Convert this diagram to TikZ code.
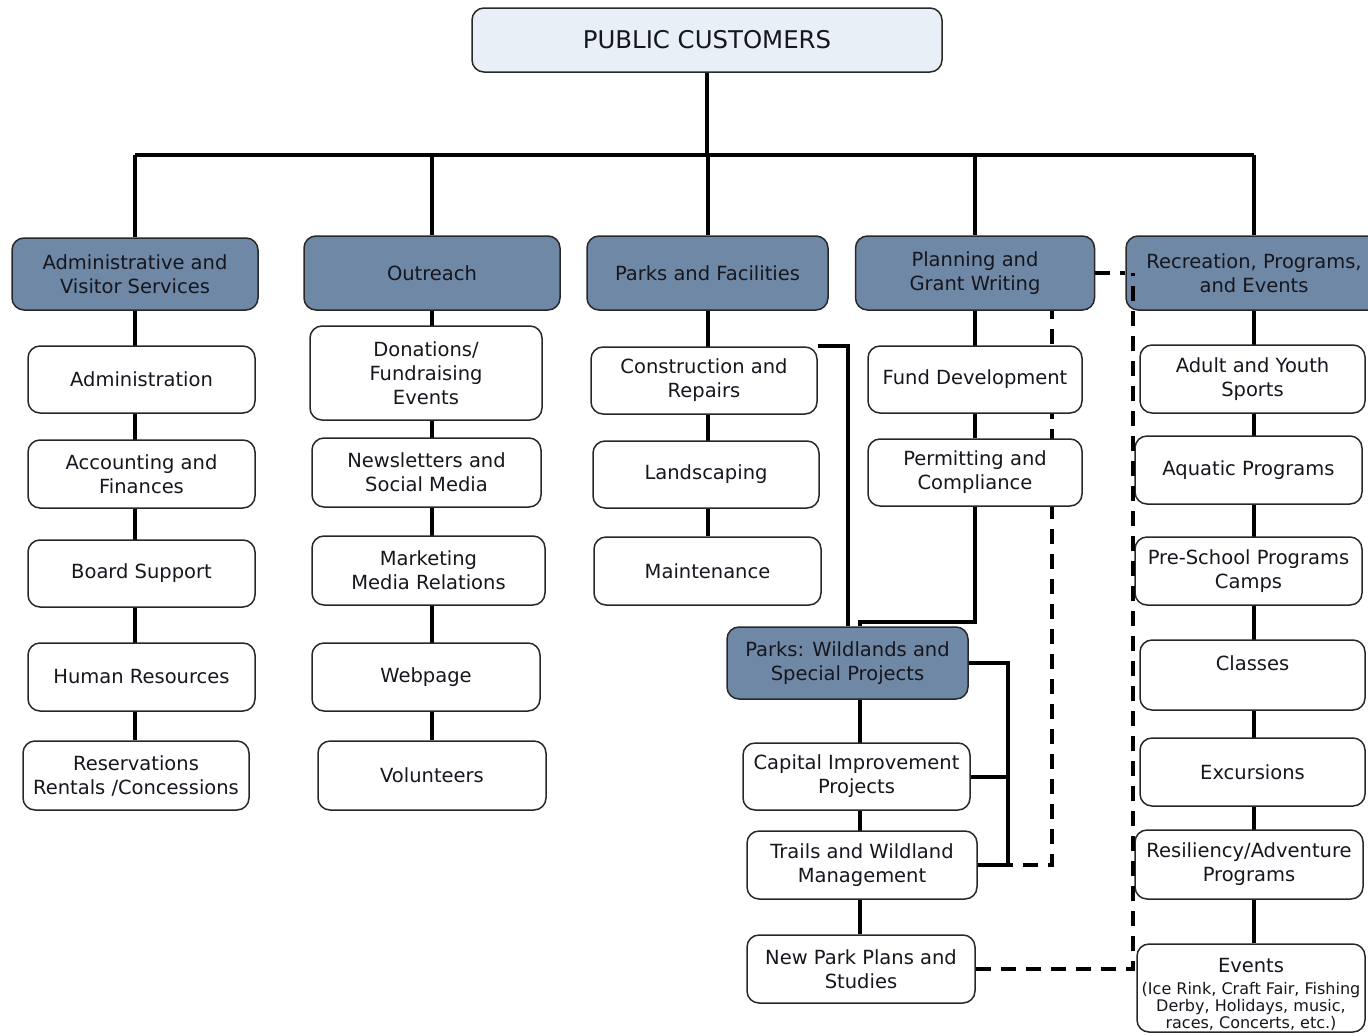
\documentclass[tikz,border=0pt]{standalone}
\usepackage{fontspec}
\setmainfont{DejaVu Sans}
\usetikzlibrary{backgrounds,calc}
\definecolor{slate}{RGB}{110,136,165}
\definecolor{topfill}{RGB}{233,239,247}
\definecolor{edge}{RGB}{40,40,40}
\definecolor{txt}{RGB}{22,22,30}
\begin{document}
\begin{tikzpicture}[x=1pt,y=-1pt,
  box/.style={draw=edge, line width=1.5pt, rounded corners=12pt, fill=white,
    align=center, text=txt, inner sep=0pt, font=\fontsize{19.5}{24}\selectfont},
  hbox/.style={box, fill=slate},
  conn/.style={line width=4pt},
  dconn/.style={line width=4pt, dash pattern=on 15pt off 10pt}]
\useasboundingbox (0,0) rectangle (1368,1034);

% top
\node[box, fill=topfill, minimum width=470pt, minimum height=64pt,
  font=\fontsize{24.4}{28}\selectfont] (top) at (707,40) {PUBLIC CUSTOMERS};

% level 2
\node[hbox, minimum width=246pt, minimum height=72pt] (adm) at (135,274) {Administrative and\\Visitor Services};
\node[hbox, minimum width=256pt, minimum height=74pt] (out) at (432,273) {Outreach};
\node[hbox, minimum width=241pt, minimum height=74pt] (pf) at (707.5,273) {Parks and Facilities};
\node[hbox, minimum width=239pt, minimum height=74pt] (pl) at (975,273) {Planning and\\Grant Writing};
\node[hbox, minimum width=256pt, minimum height=74pt] (rec) at (1254,273) {Recreation, Programs,\\and Events};

% column 1
\node[box, minimum width=227pt, minimum height=67pt] (a1) at (141.5,379.5) {Administration};
\node[box, minimum width=227pt, minimum height=68pt] (a2) at (141.5,474) {Accounting and\\Finances};
\node[box, minimum width=227pt, minimum height=67pt] (a3) at (141.5,573.5) {Board Support};
\node[box, minimum width=227pt, minimum height=68pt] (a4) at (141.5,677) {Human Resources};
\node[box, minimum width=226pt, minimum height=69pt] (a5) at (136,775.5) {Reservations\\Rentals /Concessions};

% column 2
\node[box, minimum width=232pt, minimum height=94pt] (o1) at (426,373) {Donations/\\Fundraising\\Events};
\node[box, minimum width=229pt, minimum height=69pt] (o2) at (426.5,472.5) {Newsletters and\\Social Media};
\node[box, minimum width=233pt, minimum height=69pt] (o3) at (428.5,570.5) {Marketing\\Media Relations};
\node[box, minimum width=228pt, minimum height=68pt] (o4) at (426,677) {Webpage};
\node[box, minimum width=228pt, minimum height=69pt] (o5) at (432,775.5) {Volunteers};

% column 3
\node[box, minimum width=226pt, minimum height=67pt] (p1) at (704,380.5) {Construction and\\Repairs};
\node[box, minimum width=226pt, minimum height=67pt] (p2) at (706,474.5) {Landscaping};
\node[box, minimum width=227pt, minimum height=68pt] (p3) at (707.5,571) {Maintenance};

% column 4
\node[box, minimum width=214pt, minimum height=67pt] (g1) at (975,379.5) {Fund Development};
\node[box, minimum width=214pt, minimum height=67pt] (g2) at (975,472.5) {Permitting and\\Compliance};

% wildlands
\node[hbox, minimum width=241pt, minimum height=72pt] (w0) at (847.5,663) {Parks: Wildlands and\\Special Projects};
\node[box, minimum width=227pt, minimum height=67pt] (w1) at (856.5,776.5) {Capital Improvement\\Projects};
\node[box, minimum width=230pt, minimum height=68pt] (w2) at (862,865) {Trails and Wildland\\Management};
\node[box, minimum width=228pt, minimum height=68pt] (w3) at (861,969) {New Park Plans and\\Studies};

% column 5
\node[box, minimum width=225pt, minimum height=68pt] (r1) at (1252.5,379) {Adult and Youth\\Sports};
\node[box, minimum width=227pt, minimum height=68pt] (r2) at (1248.5,470) {Aquatic Programs};
\node[box, minimum width=227pt, minimum height=68pt] (r3) at (1248.5,571) {Pre-School Programs\\Camps};
\node[box, minimum width=225pt, minimum height=70pt] (r4) at (1252.5,675) {Classes\\~};
\node[box, minimum width=225pt, minimum height=68pt] (r5) at (1252.5,772) {Excursions};
\node[box, minimum width=228pt, minimum height=69pt] (r6) at (1249,864.5) {Resiliency/Adventure\\Programs};
\node[box, minimum width=228pt, minimum height=88pt, font=\fontsize{16}{17}\selectfont] (r7) at (1251,988)
  {{\fontsize{19.5}{24}\selectfont\rule{0pt}{28pt}Events}\\[5pt](Ice Rink, Craft Fair, Fishing\\Derby, Holidays, music,\\races, Concerts, etc.)};

% helper coordinates
\coordinate (bus) at (0,155);
\coordinate (wl) at (860,0);
\coordinate (br) at (1008,0);
\coordinate (dv1) at (1052,0);
\coordinate (dv2) at (1133,0);
\coordinate (pj) at (860,622);

\begin{scope}[on background layer]
  \fill[white] (0,0) rectangle (1368,1034);
  \draw[conn] (top.south) -- (top.south |- bus);
  \draw[conn] (adm.north |- bus) -- (rec.north |- bus);
  \foreach \n in {adm,out,pf,pl,rec} \draw[conn] (\n.north |- bus) -- (\n.north);
  \draw[conn] (adm.south) -- (adm.south |- a5.north);
  \draw[conn] (out.south) -- (out.south |- o5.north);
  \draw[conn] (pf.south) -- (pf.south |- p3.north);
  \draw[conn] (pl.south) -- (pl.south |- g2.north);
  \draw[conn] (rec.south) -- (rec.south |- r7.north);
  \draw[conn] (p1.north east) -| (w0.north);
  \draw[conn] (g2.south) |- (pj) -- (pj |- w0.north);
  \draw[conn] (wl |- w0.south) -- (wl |- w3.north);
  \draw[conn] (w0.east) -- (w0.east -| br) -- (w2.east -| br) -- (w2.east);
  \draw[conn] (w1.east) -- (w1.east -| br);
  \draw[dconn, dash phase=10pt] (w2.east -| br) -- (w2.east -| dv1) -- (dv1 |- pl.south);
\end{scope}

% dashed links in front
\draw[dconn] (pl.east) -- (rec.west);
\draw[dconn] (w3.east) -| (dv2 |- pl.east);
\end{tikzpicture}
\end{document}
